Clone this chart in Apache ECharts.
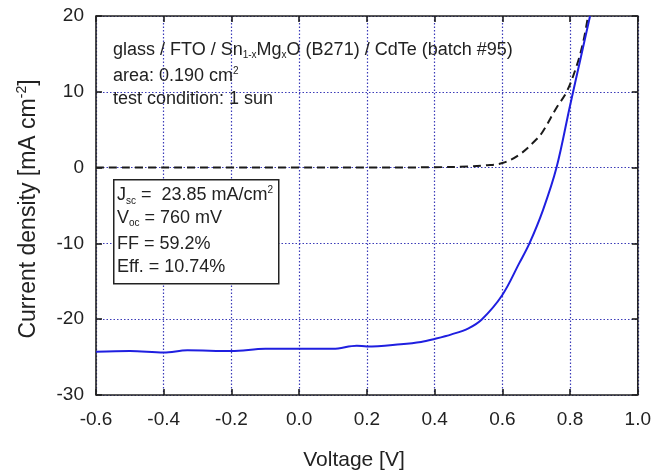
<!DOCTYPE html>
<html>
<head>
<meta charset="utf-8">
<script src="https://cdn.jsdelivr.net/npm/echarts@6/dist/echarts.min.js"></script>
<style>html,body{margin:0;padding:0;background:#fff}#c{width:654px;height:473px}</style>
</head>
<body>
<div id="c"></div>
<script>
// Illuminated J-V curve (blue, solid)
var lightV = [-0.6, -0.5, -0.4, -0.33, -0.2, -0.1, 0.0, 0.1, 0.17, 0.2, 0.3, 0.36, 0.4, 0.45, 0.5, 0.54, 0.6, 0.65, 0.68, 0.72, 0.76, 0.8, 0.83, 0.859];
var lightJ = [-24.3, -24.2, -24.4, -24.1, -24.2, -23.9, -23.9, -23.9, -23.5, -23.6, -23.3, -23.0, -22.6, -22.0, -21.2, -20.0, -16.8, -12.6, -10.0, -5.6, 0.0, 8.2, 14.2, 20.0];
// Dark J-V curve (black, dashed)
var darkV = [-0.6, -0.4, -0.2, 0.0, 0.2, 0.4, 0.5, 0.55, 0.6, 0.65, 0.7, 0.72, 0.76, 0.79, 0.82, 0.84, 0.853];
var darkJ = [0, 0, 0, 0, 0, 0.05, 0.15, 0.3, 0.6, 1.7, 3.7, 4.8, 7.9, 10.0, 13.5, 16.8, 20.0];
// Axis ticks
var xTicks = {min: -0.6, max: 1.0, step: 0.2};
var yTicks = {min: -30, max: 20, step: 10};

function pairs(xs, ys) { return xs.map(function (x, i) { return [x, ys[i]]; }); }

var chart = echarts.init(document.getElementById('c'), null, {renderer: 'canvas'});
var FONT = '"Liberation Sans", Arial, sans-serif';
var TXT = '#222';
var gridCol = '#3b3bb8';

function xAx(pos, showLabel) {
  return {
    type: 'value', position: pos, min: xTicks.min, max: xTicks.max, interval: xTicks.step,
    axisLine: {show: false, onZero: false},
    axisTick: {show: true, inside: true, length: 6, lineStyle: {color: '#111', width: 1.5}},
    axisLabel: {show: showLabel, margin: 15, color: TXT, fontSize: 19, fontFamily: FONT,
      formatter: function (v) { return v.toFixed(1); }},
    splitLine: {show: showLabel, lineStyle: {color: gridCol, type: [1.5, 2], width: 1.2}}
  };
}
function yAx(pos, showLabel) {
  return {
    type: 'value', position: pos, min: yTicks.min, max: yTicks.max, interval: yTicks.step,
    axisLine: {show: false, onZero: false},
    axisTick: {show: true, inside: true, length: 6, lineStyle: {color: '#111', width: 1.5}},
    axisLabel: {show: showLabel, margin: 12, color: TXT, fontSize: 19, fontFamily: FONT},
    splitLine: {show: showLabel, lineStyle: {color: gridCol, type: [1.5, 2], width: 1.2}}
  };
}

var option = {
  backgroundColor: '#fff',
  animation: false,
  grid: {left: 96, right: 15, top: 16, bottom: 78, show: true, borderColor: '#222', borderWidth: 1.6, backgroundColor: 'transparent', z: 3},
  xAxis: [xAx('bottom', true), xAx('top', false)],
  yAxis: [yAx('left', true), yAx('right', false)],
  series: [
    {
      type: 'line', data: pairs(darkV, darkJ), showSymbol: false, smooth: 0.35,
      lineStyle: {color: '#1a1a1a', width: 2, type: [8, 5]}, z: 4
    },
    {
      type: 'line', data: pairs(lightV, lightJ), showSymbol: false, smooth: 0.35,
      lineStyle: {color: '#1f1fe0', width: 2}, z: 5
    }
  ],
  graphic: [
    {type: 'text', left: 113, top: 41, z: 10, style: {
      text: '{a|glass / FTO / Sn}{s|1-x}{a|Mg}{s|x}{a|O (B271) / CdTe (batch #95)}',
      rich: {a: {fontSize: 18, fontFamily: FONT, fill: TXT, lineHeight: 21},
             s: {fontSize: 10, fontFamily: FONT, fill: TXT, lineHeight: 11, verticalAlign: 'bottom'}}
    }},
    {type: 'text', left: 113, top: 66, z: 10, style: {
      text: '{a|area: 0.190 cm}{p|2}',
      rich: {a: {fontSize: 18, fontFamily: FONT, fill: TXT, lineHeight: 21},
             p: {fontSize: 10, fontFamily: FONT, fill: TXT, lineHeight: 11, verticalAlign: 'top'}}
    }},
    {type: 'text', left: 113, top: 90, z: 10, style: {
      text: 'test condition: 1 sun', fontSize: 18, fontFamily: FONT, fill: TXT
    }},
    {type: 'rect', left: 113, top: 179, z: 10, shape: {width: 165, height: 104},
      style: {fill: '#fff', stroke: '#222', lineWidth: 1.5}},
    {type: 'text', left: 117, top: 185, z: 11, style: {
      text: '{a|J}{s|sc}{a| =  23.85 mA/cm}{p|2}',
      rich: {a: {fontSize: 18, fontFamily: FONT, fill: TXT, lineHeight: 21},
             s: {fontSize: 10, fontFamily: FONT, fill: TXT, lineHeight: 11, verticalAlign: 'bottom'},
             p: {fontSize: 10, fontFamily: FONT, fill: TXT, lineHeight: 11, verticalAlign: 'top'}}
    }},
    {type: 'text', left: 117, top: 209, z: 11, style: {
      text: '{a|V}{s|oc}{a| = 760 mV}',
      rich: {a: {fontSize: 18, fontFamily: FONT, fill: TXT, lineHeight: 21},
             s: {fontSize: 10, fontFamily: FONT, fill: TXT, lineHeight: 11, verticalAlign: 'bottom'}}
    }},
    {type: 'text', left: 117, top: 235, z: 11, style: {
      text: 'FF = 59.2%', fontSize: 18, fontFamily: FONT, fill: TXT
    }},
    {type: 'text', left: 117, top: 258, z: 11, style: {
      text: 'Eff. = 10.74%', fontSize: 18, fontFamily: FONT, fill: TXT
    }},
    {type: 'text', x: 354, y: 460, z: 10, style: {
      text: 'Voltage [V]', fontSize: 21, fontFamily: FONT, fill: TXT, align: 'center', verticalAlign: 'middle'
    }},
    {type: 'text', x: 29, y: 209, rotation: Math.PI / 2, z: 10, style: {
      text: '{a|Current density [mA cm}{p|-2}{a|]}', align: 'center', verticalAlign: 'middle',
      rich: {a: {fontSize: 23, fontFamily: FONT, fill: TXT, lineHeight: 27},
             p: {fontSize: 14, fontFamily: FONT, fill: TXT, lineHeight: 15, verticalAlign: 'top'}}
    }}
  ]
};
chart.setOption(option);
</script>
</body>
</html>
